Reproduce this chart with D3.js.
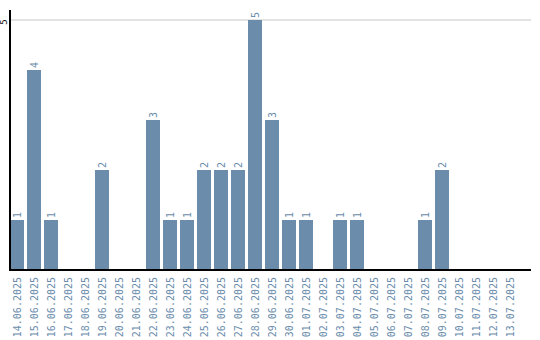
<!DOCTYPE html>
<html>
<head>
<meta charset="utf-8">
<script src="https://cdn.jsdelivr.net/npm/d3@7"></script>
<style>
  body { margin: 0; background: #fff; }
  text { font-family: "DejaVu Sans Mono", monospace; font-size: 10px; }
</style>
</head>
<body>
<script>
// daily counts, 14.06.2025 - 13.07.2025
var dates = ["14.06.2025","15.06.2025","16.06.2025","17.06.2025","18.06.2025","19.06.2025",
  "20.06.2025","21.06.2025","22.06.2025","23.06.2025","24.06.2025","25.06.2025","26.06.2025",
  "27.06.2025","28.06.2025","29.06.2025","30.06.2025","01.07.2025","02.07.2025","03.07.2025",
  "04.07.2025","05.07.2025","06.07.2025","07.07.2025","08.07.2025","09.07.2025","10.07.2025",
  "11.07.2025","12.07.2025","13.07.2025"];
var counts = [1,4,1,0,0,2,0,0,3,1,1,2,2,2,5,3,1,1,0,1,1,0,0,0,1,2,0,0,0,0];
var yTicks = [5];

var barColor = "#6b8cab";

var svg = d3.select("body").append("svg")
  .attr("width", 540)
  .attr("height", 340);

var x = d3.scaleBand()
  .domain(dates)
  .range([10, 517])
  .paddingInner(3 / 17)
  .paddingOuter(0);

var y = d3.scaleLinear()
  .domain([0, 5.2])
  .range([270, 10]);

// gridline
svg.selectAll("line.grid")
  .data(yTicks)
  .enter()
  .append("line")
  .attr("class", "grid")
  .attr("x1", 10).attr("x2", 531)
  .attr("y1", function(d){ return y(d); })
  .attr("y2", function(d){ return y(d); })
  .style("stroke", "#c8c8c8")
  .style("stroke-width", 1);

// bars
svg.selectAll("rect")
  .data(counts)
  .enter()
  .append("rect")
  .attr("x", function(d, i){ return x(dates[i]); })
  .attr("y", function(d){ return y(d); })
  .attr("width", x.bandwidth())
  .attr("height", function(d){ return 270 - y(d); })
  .style("fill", barColor);

// value labels
svg.selectAll("text.val")
  .data(counts.map(function(d, i){ return [d, dates[i]]; }).filter(function(d){ return d[0] > 0; }))
  .enter()
  .append("text")
  .attr("class", "val")
  .attr("transform", function(d){
    return "translate(" + (x(d[1]) + x.bandwidth() / 2) + "," + (y(d[0]) - 2) + ") rotate(-90)";
  })
  .attr("dy", "0.35em")
  .style("fill", barColor)
  .text(function(d){ return d[0]; });

// x axis
var xAxis = svg.append("g")
  .attr("transform", "translate(0,270)");
xAxis.append("line")
  .attr("x1", 10).attr("x2", 531)
  .style("stroke", "#000").style("stroke-width", 2);
xAxis.selectAll("text")
  .data(dates)
  .enter()
  .append("text")
  .attr("transform", function(d){
    return "translate(" + (x(d) + x.bandwidth() / 2) + ",7) rotate(-90)";
  })
  .attr("dy", "0.35em")
  .attr("text-anchor", "end")
  .style("fill", barColor)
  .text(function(d){ return d; });

// y axis
var yAxis = svg.append("g");
yAxis.append("line")
  .attr("x1", 10).attr("x2", 10)
  .attr("y1", 10).attr("y2", 271)
  .style("stroke", "#000").style("stroke-width", 2);
yAxis.selectAll("text")
  .data(yTicks)
  .enter()
  .append("text")
  .attr("transform", function(d){ return "translate(4," + (y(d) + 2) + ") rotate(-90)"; })
  .attr("dy", "0.35em")
  .attr("text-anchor", "middle")
  .style("fill", "#000")
  .style("font-size", "9px")
  .text(function(d){ return d; });
</script>
</body>
</html>
